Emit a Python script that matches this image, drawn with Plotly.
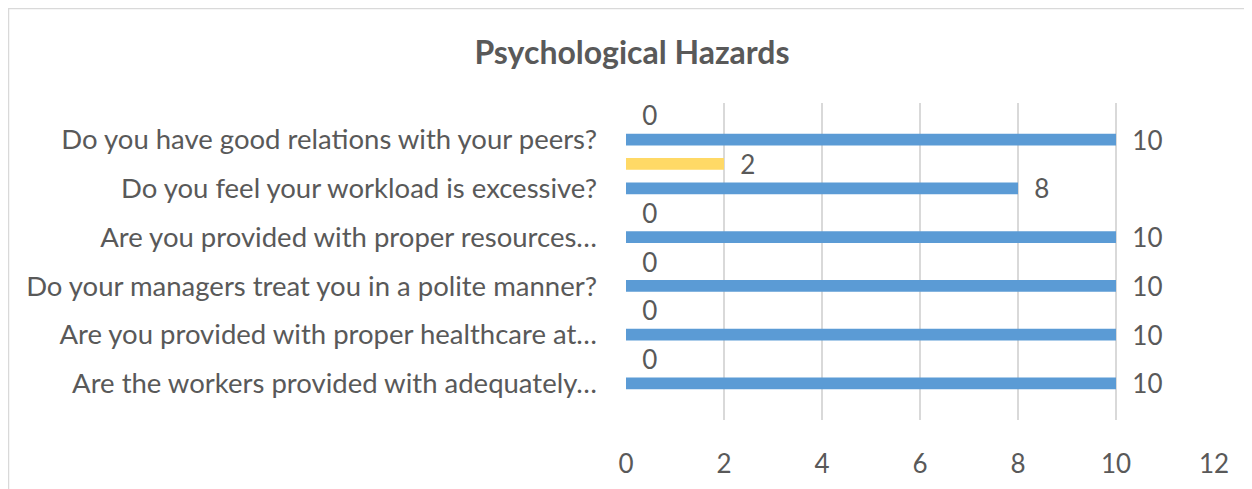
import plotly.graph_objects as go

categories = [
    "Are the workers provided with adequately…",
    "Are you provided with proper healthcare at…",
    "Do your managers treat you in a polite manner?",
    "Are you provided with proper resources…",
    "Do you feel your workload is excessive?",
    "Do you have good relations with your peers?",
]
yes_values = [10, 10, 10, 10, 8, 10]
no_values = [0, 0, 0, 0, 2, 0]
x_ticks = [0, 2, 4, 6, 8, 10, 12]

BLUE = "#5B9BD5"
YELLOW = "#FFD966"
TXT = "#595959"
FONT = "Lato"
PAD = "\u00a0\u00a0"
FS = 26

# page body has an 8px margin; pixel targets below are in page coordinates
OFF = 8
W, H = 1252, 489
L = 626 - OFF
T = 103 - OFF
R = (W + OFF) - 1214
B = (H + OFF) - 420

fig = go.Figure()
fig.add_trace(go.Bar(
    y=categories, x=yes_values, orientation="h", name="Yes",
    marker=dict(color=BLUE, line=dict(width=0)),
    width=0.24, offset=-0.12,
    text=[PAD + str(v) for v in yes_values], textposition="outside",
    textfont=dict(family=FONT, size=FS, color=TXT),
    constraintext="none", cliponaxis=False,
))
fig.add_trace(go.Bar(
    y=categories, x=no_values, orientation="h", name="No",
    marker=dict(color=YELLOW, line=dict(width=0)),
    width=0.24, offset=0.38,
    text=[PAD + str(v) for v in no_values], textposition="outside",
    textfont=dict(family=FONT, size=FS, color=TXT),
    constraintext="none", cliponaxis=False,
))

pw = W - L - R
ph = H - T - B
def px2paper_x(px):
    return (px - OFF - L) / pw
def px2paper_y(py):
    return (H - B - (py - OFF)) / ph

fig.update_layout(
    width=W, height=H,
    margin=dict(l=L, r=R, t=T, b=B, pad=0),
    paper_bgcolor="white", plot_bgcolor="white",
    barmode="overlay",
    showlegend=False,
    title=dict(text="<b>Psychological Hazards</b>", x=(632 - OFF) / W, xanchor="center",
               y=1 - (53 - OFF) / H, yanchor="middle",
               font=dict(family=FONT, size=32, color=TXT)),
    font=dict(family=FONT, color=TXT),
    xaxis=dict(range=[0, 12], tickvals=x_ticks, ticktext=[str(v) for v in x_ticks],
               showgrid=True, gridcolor="#D9D9D9", gridwidth=1.5,
               zeroline=False, showline=False,
               tickfont=dict(family=FONT, size=FS, color=TXT),
               ticks="", ticklabelstandoff=26),
    yaxis=dict(type="category", range=[-0.75, 5.75],
               showgrid=False, zeroline=False, showline=False,
               tickfont=dict(family=FONT, size=27.5, color=TXT),
               ticks="", ticklabelstandoff=28),
    shapes=[dict(type="rect", xref="paper", yref="paper",
                 x0=px2paper_x(8.5), x1=px2paper_x(1300),
                 y0=px2paper_y(560), y1=px2paper_y(8.5),
                 line=dict(color="#D9D9D9", width=1.5), fillcolor="rgba(0,0,0,0)",
                 layer="below")],
)

fig.write_html("out.html")
